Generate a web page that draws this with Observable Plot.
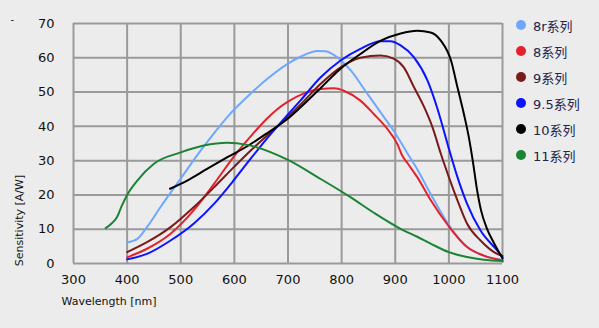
<!DOCTYPE html>
<html>
<head>
<meta charset="utf-8">
<script src="https://cdn.jsdelivr.net/npm/d3@7"></script>
<script src="https://cdn.jsdelivr.net/npm/@observablehq/plot@0.6"></script>
<style>
  html, body { margin: 0; padding: 0; background: #ececec; }
  #wrap { position: relative; width: 599px; height: 328px; overflow: hidden; background: #ececec; }
  #legend { position: absolute; left: 516px; top: 12px; font-family: "DejaVu Sans", "Noto Sans CJK SC", sans-serif; font-size: 13px; color: #23234a; }
  .row { display: flex; align-items: center; height: 26px; }
  .dot { width: 10px; height: 10px; border-radius: 50%; margin-right: 7px; }
</style>
</head>
<body>
<div id="wrap">
  <div id="chart"></div>
  <div id="legend"></div>
</div>
<script>
const seriesNames = ["8r系列", "8系列", "9系列", "9.5系列", "10系列", "11系列"];
const seriesColors = ["#6ea8fe", "#e4222b", "#7a1a1a", "#0a14ff", "#000000", "#1b8434"];
const xTicks = [300, 400, 500, 600, 700, 800, 900, 1000, 1100];
const yTicks = [0, 10, 20, 30, 40, 50, 60, 70];

const wl8r = [400, 419, 437, 462, 500, 537, 560, 590, 630, 661, 700, 723, 755, 770, 786, 817, 848, 879, 898, 922, 941, 966, 1000, 1034, 1065, 1100];
const s8r  = [6.2, 7.2, 10.6, 16.4, 24.8, 32.9, 37.6, 43.3, 49.5, 53.8, 58.3, 60.3, 62, 61.9, 60.8, 56.3, 49.5, 42.7, 38.5, 32.3, 27.5, 20.3, 11.2, 4.8, 2.3, 1.0];

const wl8 = [400, 437, 481, 524, 562, 599, 630, 661, 680, 700, 730, 761, 786, 804, 835, 860, 885, 904, 913, 925, 941, 966, 1000, 1034, 1065, 1100];
const s8  = [1.8, 4.3, 8.7, 15.5, 23.2, 31.2, 37, 42.3, 45, 47.2, 49.6, 50.9, 51.1, 50.4, 47.5, 43.6, 39.3, 34.8, 31.5, 28.8, 25.2, 18.5, 10.8, 4.8, 2.3, 0.9];

const wl9 = [400, 437, 481, 524, 562, 599, 630, 661, 700, 723, 761, 798, 835, 873, 898, 916, 935, 954, 970, 985, 1000, 1016, 1034, 1059, 1090, 1100];
const s9  = [3.3, 6.2, 10.6, 16.4, 22.2, 28.1, 32.9, 37.3, 42.8, 46.3, 52.4, 57.2, 60, 60.7, 59.7, 57.2, 51.4, 45.6, 39.5, 32, 25.2, 18.4, 11.6, 6.7, 2.8, 2.2];

const wl95 = [400, 437, 481, 524, 562, 600, 630, 661, 700, 723, 761, 798, 835, 873, 891, 910, 935, 960, 979, 1000, 1016, 1034, 1059, 1090, 1100];
const s95  = [1.2, 2.8, 6.7, 11.6, 17.4, 24.5, 30.5, 36.5, 43.5, 47.5, 54.3, 59.2, 62.6, 64.8, 64.8, 63.6, 60.1, 53.4, 45, 33.5, 25.2, 17.4, 9.6, 3.8, 1.8];

const wl10 = [480, 512, 549, 587, 624, 661, 700, 723, 761, 798, 835, 873, 910, 941, 966, 985, 1004, 1016, 1028, 1037, 1045, 1052, 1060, 1071, 1084, 1100];
const s10  = [21.8, 24.2, 27.6, 31, 34.2, 38, 42.3, 45.5, 51.2, 56.8, 61.1, 65, 67.1, 67.9, 67.4, 65, 59.2, 51.4, 43.6, 37, 29.5, 22, 15.5, 10.2, 6, 1.5];

const wl11 = [360, 372, 381, 390, 400, 419, 450, 500, 543, 587, 624, 700, 755, 817, 860, 910, 941, 966, 1000, 1034, 1065, 1100];
const s11  = [10.3, 11.8, 13.5, 16.8, 20, 24.2, 29.1, 32.4, 34.4, 35.2, 34.6, 30.2, 25.2, 19.3, 14.8, 10.1, 7.8, 5.8, 3.3, 1.9, 1.1, 0.7];

const seriesX = [wl8r, wl8, wl9, wl95, wl10, wl11];
const seriesY = [s8r, s8, s9, s95, s10, s11];

const rows = [];
seriesNames.forEach((name, i) => {
  seriesX[i].forEach((w, j) => rows.push({series: name, wl: w, s: seriesY[i][j]}));
});

const gridRowsX = xTicks.map(v => ({v}));
const gridRowsY = yTicks.map(v => ({v}));

const chart = Plot.plot({
  width: 599,
  height: 328,
  marginLeft: 73,
  marginRight: 97,
  marginTop: 23,
  marginBottom: 65,
  style: {background: "#ececec", fontFamily: "DejaVu Sans, sans-serif", fontSize: "13px"},
  x: {domain: [300, 1100]},
  y: {domain: [0, 70]},
  color: {domain: seriesNames, range: seriesColors},
  marks: [
    Plot.ruleX(gridRowsX, {x: "v", stroke: "#9a9a9a", strokeWidth: 2}),
    Plot.ruleY(gridRowsY, {y: "v", stroke: "#9a9a9a", strokeWidth: 2}),
    Plot.axisX(xTicks, {tickSize: 0, tickPadding: 11, label: null, fontSize: 13, fill: "#111", tickFormat: d => String(d)}),
    Plot.axisY(yTicks, {tickSize: 0, tickPadding: 19, label: null, fontSize: 13, fill: "#111", tickFormat: d => String(d)}),
    Plot.line(rows, {x: "wl", y: "s", z: "series", stroke: "series", strokeWidth: 2, curve: "monotone-x"}),
    Plot.text(["Wavelength [nm]"], {frameAnchor: "bottom-left", dx: -12, dy: 41, textAnchor: "start", fontSize: 11, fill: "#111"}),
    Plot.text(["Sensitivity [A/W]"], {frameAnchor: "bottom-left", dx: -51, dy: -43, rotate: -90, textAnchor: "middle", fontSize: 11, fill: "#111"}),
    Plot.text(["-"], {frameAnchor: "top-left", dx: -63, dy: -8, fontSize: 10, fill: "#23234a"})
  ]
});
document.getElementById("chart").appendChild(chart);

const legend = d3.select("#legend");
seriesNames.forEach((name, i) => {
  const row = legend.append("div").attr("class", "row");
  row.append("div").attr("class", "dot").style("background", seriesColors[i]);
  row.append("span").text(name);
});
</script>
</body>
</html>
